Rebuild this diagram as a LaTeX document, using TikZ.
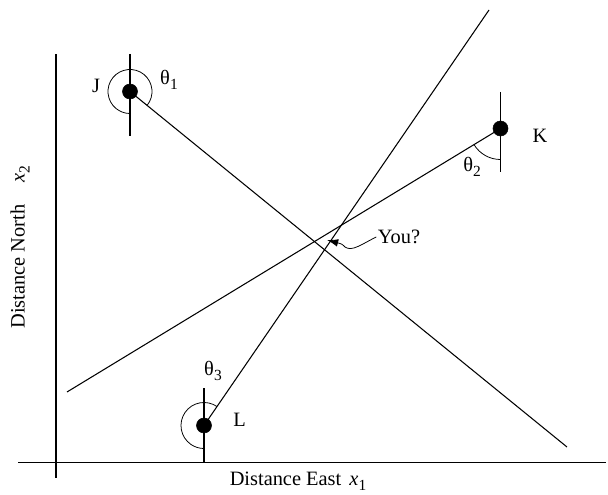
\documentclass[tikz,border=0pt]{standalone}
\usepackage{fontspec}
\setmainfont{Liberation Serif}
\usepackage{tikz}
\usetikzlibrary{arrows.meta}
\newcommand{\lowsub}[1]{\raisebox{-0.55ex}{\fontsize{11}{12}\selectfont #1}}

\begin{document}
\begin{tikzpicture}[x=0.025cm,y=0.025cm,
  dot/.style={draw, circle, fill=black, minimum size=0.375cm, inner sep=0pt},
  lbl/.style={font=\fontsize{14.5}{16}\selectfont, inner sep=1pt},
  tick/.style={line width=0.75pt},
  ray/.style={line width=0.75pt},
  ang/.style={line width=0.55pt}]
  \useasboundingbox (0,0) rectangle (608,495);

  % axes
  \coordinate (xa) at (18,32.5);
  \coordinate (xb) at (606,32.5);
  \coordinate (ya) at (56,17);
  \coordinate (yb) at (56,441);
  \draw[tick] (xa) -- (xb);
  \draw[tick] (ya) -- (yb);
  \node[lbl] (east) at (298,14) {Distance East\hspace{0.4em}\textit{x}\lowsub{1}};
  \node[lbl, rotate=90] (north) at (20,248) {Distance North\hspace{1.1em}\textit{x}\lowsub{2}};

  % stations
  \node[dot] (J) at (130,403.5) {};
  \node[dot] (K) at (500.5,366.5) {};
  \node[dot] (L) at (204,69.5) {};
  \coordinate (jEnd) at (567,48);
  \coordinate (kEnd) at (67,103);
  \coordinate (lEnd) at (489,485);

  % north ticks
  \draw[tick] (130,441) -- (J) -- (130,359);
  \draw[tick] (500.5,403) -- (K) -- (500.5,322.5);
  \draw[tick] (204,106.7) -- (L) -- (204,32.5);

  % bearing lines
  \draw[ray] (J.center) -- (jEnd);
  \draw[ray] (K.center) -- (kEnd);
  \draw[ray] (L.center) -- (lEnd);

  % angle arcs
  \draw[ang] (J.center) ++(-39.1:0.55cm) arc[start angle=-39.1, end angle=270, radius=0.55cm];
  \draw[ang] (K.center) ++(211.3:0.775cm) arc[start angle=211.3, end angle=270, radius=0.775cm];
  \draw[ang] (L.center) ++(55.6:0.575cm) arc[start angle=55.6, end angle=270, radius=0.575cm];

  % labels
  \node[lbl] (jName) at (96,409) {J};
  \node[lbl] (kName) at (540,359.5) {K};
  \node[lbl] (lName) at (239.5,75) {L};
  \node[lbl] (th1) at (169,415) {θ\lowsub{1}};
  \node[lbl] (th2) at (472,328) {θ\lowsub{2}};
  \node[lbl] (th3) at (213,124) {θ\lowsub{3}};

  % you
  \node[lbl] (you) at (399,258) {You?};
  \coordinate (fix) at (327,255);
  \draw[ang, -{Latex[length=0.28cm,width=0.19cm]}] (you.west) .. controls (362,251) and (352,243) .. (345,248) .. controls (342,251) .. (fix);
\end{tikzpicture}
\end{document}
